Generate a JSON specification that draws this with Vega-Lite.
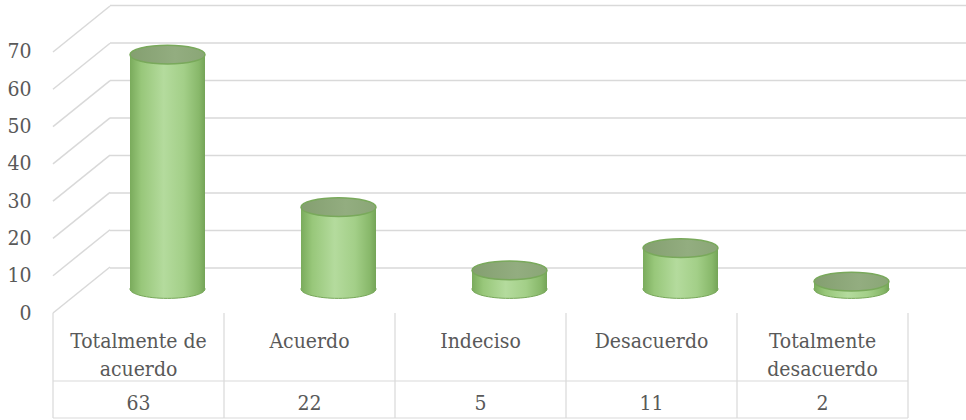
{
  "$schema": "https://vega.github.io/schema/vega-lite/v6.json",
  "width": 855,
  "height": 308,
  "padding": {"left": 53, "top": 5, "right": 58, "bottom": 107},
  "autosize": {"type": "none"},
  "background": "white",
  "config": {"view": {"stroke": null}, "font": "DejaVu Serif Condensed, DejaVu Serif"},
  "datasets": {
    "respuestas": [
      {"categoria": "Totalmente de acuerdo", "etiqueta": "Totalmente de\nacuerdo", "valor": 63},
      {"categoria": "Acuerdo", "etiqueta": "Acuerdo", "valor": 22},
      {"categoria": "Indeciso", "etiqueta": "Indeciso", "valor": 5},
      {"categoria": "Desacuerdo", "etiqueta": "Desacuerdo", "valor": 11},
      {"categoria": "Totalmente desacuerdo", "etiqueta": "Totalmente\ndesacuerdo", "valor": 2}
    ],
    "niveles": [
      {"nivel": 0}, {"nivel": 10}, {"nivel": 20}, {"nivel": 30},
      {"nivel": 40}, {"nivel": 50}, {"nivel": 60}, {"nivel": 70}
    ]
  },
  "layer": [
    {
      "data": {"name": "niveles"},
      "mark": {"type": "rule", "color": "#d9d9d9", "strokeWidth": 1.5, "y2Offset": -46},
      "encoding": {
        "x": {"value": 0},
        "x2": {"value": 57},
        "y": {
          "field": "nivel", "type": "quantitative",
          "scale": {"domain": [0, 82.6], "nice": false, "zero": false},
          "axis": {
            "values": [0, 10, 20, 30, 40, 50, 60, 70],
            "domain": false, "ticks": false, "grid": false, "title": null,
            "labelFont": "DejaVu Serif Condensed, DejaVu Serif", "labelFontSize": 21,
            "labelColor": "#595959", "labelPadding": 22
          }
        },
        "y2": {"field": "nivel"}
      }
    },
    {
      "data": {"name": "niveles"},
      "mark": {"type": "rule", "color": "#d9d9d9", "strokeWidth": 1.5},
      "encoding": {
        "x": {"value": 57},
        "x2": {"value": 913},
        "y": {
          "field": "nivel", "type": "quantitative",
          "scale": {"domain": [-12, 70.1], "nice": false, "zero": false},
          "axis": null
        }
      }
    },
    {
      "data": {"name": "respuestas"},
      "layer": [
        {
          "mark": {
            "type": "point", "filled": true, "opacity": 1,
            "shape": "M-1,0A1,0.25,0,1,0,1,0A1,0.25,0,1,0,-1,0Z",
            "size": 5625, "xOffset": 29,
            "fill": {"gradient": "linear", "x1": 0, "x2": 1, "y1": 0, "y2": 0,
              "stops": [{"offset": 0, "color": "#7aab5c"}, {"offset": 0.15, "color": "#98c77a"}, {"offset": 0.45, "color": "#b4db9d"}, {"offset": 0.72, "color": "#a3cf88"}, {"offset": 0.92, "color": "#88b86a"}, {"offset": 1, "color": "#74a457"}]},
            "stroke": "#78a85a", "strokeWidth": 1
          },
          "encoding": {
            "x": {"field": "categoria", "type": "nominal", "sort": null,
              "scale": {"paddingInner": 0, "paddingOuter": 0}, "axis": null},
            "y": {"datum": 0, "type": "quantitative",
              "scale": {"domain": [-6.45, 76.35], "nice": false, "zero": false}, "axis": null}
          }
        },
        {
          "mark": {
            "type": "bar", "width": 75, "xOffset": 29,
            "fill": {"gradient": "linear", "x1": 0, "x2": 1, "y1": 0, "y2": 0,
              "stops": [{"offset": 0, "color": "#7aab5c"}, {"offset": 0.15, "color": "#98c77a"}, {"offset": 0.45, "color": "#b4db9d"}, {"offset": 0.72, "color": "#a3cf88"}, {"offset": 0.92, "color": "#88b86a"}, {"offset": 1, "color": "#74a457"}]}
          },
          "encoding": {
            "x": {"field": "categoria", "type": "nominal", "sort": null,
              "scale": {"paddingInner": 0, "paddingOuter": 0}, "axis": null},
            "y": {"field": "valor", "type": "quantitative",
              "scale": {"domain": [-6.45, 76.35], "nice": false, "zero": false}, "axis": null},
            "y2": {"datum": 0}
          }
        },
        {
          "mark": {
            "type": "point", "filled": true, "opacity": 1,
            "shape": "M-1,0A1,0.25,0,1,0,1,0A1,0.25,0,1,0,-1,0Z",
            "size": 5625, "xOffset": 29,
            "fill": {"gradient": "linear", "x1": 0, "x2": 1, "y1": 0, "y2": 0,
              "stops": [{"offset": 0, "color": "#849f70"}, {"offset": 0.6, "color": "#93ad80"}, {"offset": 1, "color": "#8aa676"}]},
            "stroke": "#79a95b", "strokeWidth": 1.5
          },
          "encoding": {
            "x": {"field": "categoria", "type": "nominal", "sort": null,
              "scale": {"paddingInner": 0, "paddingOuter": 0}, "axis": null},
            "y": {"field": "valor", "type": "quantitative",
              "scale": {"domain": [-6.45, 76.35], "nice": false, "zero": false}, "axis": null}
          }
        }
      ]
    },
    {
      "data": {"name": "respuestas"},
      "mark": {"type": "rule", "color": "#d9d9d9", "strokeWidth": 1.2},
      "encoding": {
        "x": {"field": "categoria", "type": "nominal", "sort": null, "bandPosition": 0,
          "scale": {"paddingInner": 0, "paddingOuter": 0}, "axis": null},
        "y": {"value": 308},
        "y2": {"value": 413}
      }
    },
    {
      "data": {"values": [{}]},
      "mark": {"type": "rule", "color": "#d9d9d9", "strokeWidth": 1.2},
      "encoding": {
        "x": {"value": 855},
        "y": {"value": 308},
        "y2": {"value": 413}
      }
    },
    {
      "data": {"values": [{}]},
      "mark": {"type": "rule", "color": "#d9d9d9", "strokeWidth": 1.2},
      "encoding": {
        "x": {"value": 0},
        "x2": {"value": 855},
        "y": {"value": 376}
      }
    },
    {
      "data": {"values": [{}]},
      "mark": {"type": "rule", "color": "#d9d9d9", "strokeWidth": 1.2},
      "encoding": {
        "x": {"value": 0},
        "x2": {"value": 855},
        "y": {"value": 413}
      }
    },
    {
      "data": {"name": "respuestas"},
      "mark": {"type": "text", "font": "DejaVu Serif Condensed, DejaVu Serif", "fontSize": 21, "color": "#595959",
        "baseline": "alphabetic", "lineBreak": "\n", "lineHeight": 28, "y": 343},
      "encoding": {
        "x": {"field": "categoria", "type": "nominal", "sort": null,
          "scale": {"paddingInner": 0, "paddingOuter": 0}, "axis": null},
        "text": {"field": "etiqueta"}
      }
    },
    {
      "data": {"name": "respuestas"},
      "mark": {"type": "text", "font": "DejaVu Serif Condensed, DejaVu Serif", "fontSize": 21, "color": "#595959",
        "baseline": "alphabetic", "y": 405},
      "encoding": {
        "x": {"field": "categoria", "type": "nominal", "sort": null,
          "scale": {"paddingInner": 0, "paddingOuter": 0}, "axis": null},
        "text": {"field": "valor", "type": "quantitative"}
      }
    }
  ],
  "resolve": {"scale": {"y": "independent"}, "axis": {"y": "independent"}}
}
